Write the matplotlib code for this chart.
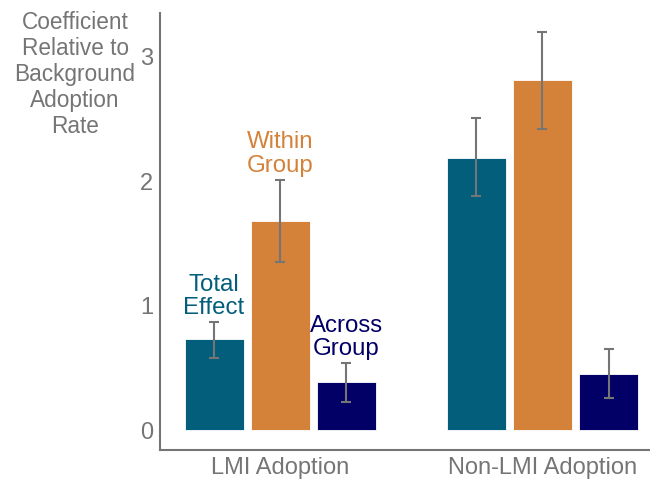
import matplotlib
matplotlib.use("Agg")
import matplotlib.pyplot as plt
import numpy as np

plt.rcParams['font.family'] = ['Liberation Sans', 'DejaVu Sans']

groups = ["LMI Adoption", "Non-LMI Adoption"]
series = ["Total Effect", "Within Group", "Across Group"]
values = {
    "Total Effect": [0.73, 2.19],
    "Within Group": [1.68, 2.81],
    "Across Group": [0.39, 0.45],
}
err_low = {
    "Total Effect": [0.58, 1.88],
    "Within Group": [1.35, 2.42],
    "Across Group": [0.23, 0.26],
}
err_high = {
    "Total Effect": [0.87, 2.51],
    "Within Group": [2.01, 3.20],
    "Across Group": [0.54, 0.65],
}
colors = {"Total Effect": "#035e7b", "Within Group": "#d4823a", "Across Group": "#020066"}
yticks = [0, 1, 2, 3]

fig = plt.figure(figsize=(6.5, 4.79), dpi=100)
ax = fig.add_axes([160/650, 1 - 450/479, 490/650, (450-13)/479])

x = np.arange(len(groups))
width = 0.225
offsets = [-0.252, 0, 0.252]
gray = "#757575"
for s, off in zip(series, offsets):
    v = np.array(values[s])
    lo = v - np.array(err_low[s])
    hi = np.array(err_high[s]) - v
    ax.bar(x + off, v, width, color=colors[s], edgecolor="white", linewidth=0.6, zorder=2)
    ax.errorbar(x + off, v, yerr=[lo, hi], fmt="none", ecolor=gray, elinewidth=1.5,
                capsize=3.5, capthick=1.5, zorder=3)
    # label above first group's bar
    ax.annotate(s.replace(" ", "\n"), (x[0] + off, err_high[s][0]), xytext=(0, 2),
                textcoords="offset points", ha="center", va="bottom", color=colors[s],
                fontsize=17.3, linespacing=1.1)

ax.set_xlim(-0.458, 1.41)
ax.set_ylim(-0.157, 3.35)
ax.set_xticks(x)
ax.set_xticklabels(groups, fontsize=17, color=gray)
ax.set_yticks(yticks)
ax.set_yticklabels([str(t) for t in yticks], fontsize=17, color=gray)
ax.tick_params(axis="both", length=0)
ax.tick_params(axis="y", pad=5)
ax.tick_params(axis="x", pad=5)
for sp in ["top", "right"]:
    ax.spines[sp].set_visible(False)
for sp in ["left", "bottom"]:
    ax.spines[sp].set_color(gray)
    ax.spines[sp].set_linewidth(1.5)

fig.text(75/650, 1 - 11/479, "Coefficient\nRelative to\nBackground\nAdoption\nRate",
         ha="center", va="top", multialignment="center", fontsize=16.3, color=gray,
         linespacing=1.16)

fig.savefig("out.png", dpi=100)
